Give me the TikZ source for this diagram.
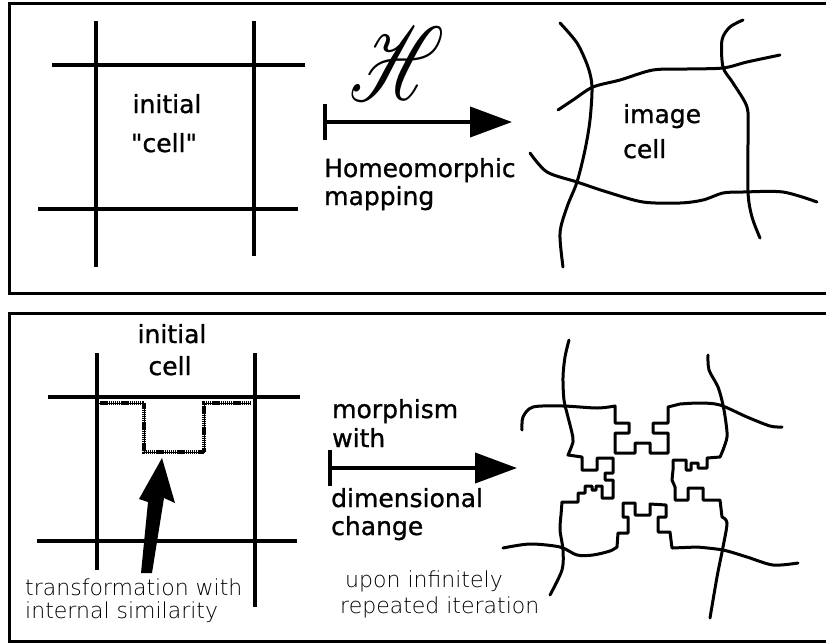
\documentclass[tikz,border=0pt]{standalone}
\usepackage{fontspec}
\usepackage{mathrsfs}
\setmainfont{DejaVu Sans}[RawFeature={embolden=1}]
\newfontfamily\thinfont{DejaVuSans-ExtraLight.ttf}
\usetikzlibrary{arrows.meta}
\tikzset{%
  panel/.style={line width=3pt},
  cellline/.style={line width=3.5pt},
  wavy/.style={line width=3pt,line cap=round,line join=round},
  hatch/.style={line width=4pt,dash pattern=on 1.4pt off 0.7pt},
  maparrow/.style={line width=4pt,{Bar[width=36pt,line width=4pt]}-{Triangle[length=42pt,width=30pt]}},
  word/.style={font=\fontsize{25}{30}\selectfont,inner sep=0pt},
  thinword/.style={font=\thinfont\fontsize{22}{24}\selectfont,inner sep=0pt},
}

\begin{document}
\begin{tikzpicture}[x=1pt,y=-1pt]
  \useasboundingbox (0,0) rectangle (826,643);
  \draw[panel] (9,3) rectangle (830,293);
  \draw[panel] (9,313) rectangle (830,641);

  % top panel
  \draw[cellline] (96,21) -- (96,267);
  \draw[cellline] (254,21) -- (254,256);
  \draw[cellline] (52,65) -- (305,65);
  \draw[cellline] (38,209) -- (298,209);
  \node[word,anchor=base] (ini1) at (167,113) {initial};
  \node[word,anchor=base] (cell1) at (164,152) {\textquotedbl cell\textquotedbl};

  \node[inner sep=0pt,xscale=7.5,yscale=10.5] (hsym) at (397,64) {$\mathscr{H}$};
  \coordinate (mapstart) at (323,122);
  \coordinate (mapend) at (512,122);
  \draw[maparrow] (mapstart) -- (mapend);
  \node[word,anchor=base west] (homeo) at (324,177) {Homeomorphic};
  \node[word,anchor=base west] (mapping) at (324,205) {mapping};

  \draw[wavy] plot[smooth] coordinates {(560,23) (577,43) (588,67) (592,87) (590,120) (585,150) (577,182) (567,207) (560,233) (563,267)};
  \draw[wavy] plot[smooth] coordinates {(558,110) (573,100) (593,87) (620,80) (653,70) (687,69) (723,68) (747,62) (780,55)};
  \draw[wavy] plot[smooth] coordinates {(743,20) (730,27) (722,40) (723,67) (733,83) (747,107) (748,133) (748,192) (752,217) (760,238)};
  \draw[wavy] plot[smooth] coordinates {(530,153) (547,172) (577,182) (607,192) (643,202) (680,203) (703,200) (723,193) (743,192) (783,192) (817,202)};
  \node[word,anchor=base west] (image) at (623,123) {image};
  \node[word,anchor=base west] (cell2) at (623,158) {cell};

  % bottom panel
  \draw[cellline] (97,353) -- (97,570);
  \draw[cellline] (255,353) -- (255,607);
  \draw[cellline] (48,397) -- (300,397);
  \draw[cellline] (37,541) -- (297,541);
  \node[word,anchor=base] (ini2) at (172,343) {initial};
  \node[word,anchor=base] (cell3) at (170,375) {cell};
  \draw[line width=1pt] (98,403) -- (144,403) -- (144,452) -- (204,452) -- (204,403) -- (250,403);
  \draw[hatch] (98,403) -- (144,403) -- (144,452) -- (204,452) -- (204,403) -- (250,403);
  \fill (162,458) -- (175,503) -- (164,498) -- (152,573) -- (141,573) -- (148,502) -- (139,499) -- cycle;
  \node[thinword,anchor=base west] (trans) at (25,595) {transformation with};
  \node[thinword,anchor=base west] (simil) at (25,618) {internal similarity};

  \coordinate (morphstart) at (328,468);
  \coordinate (morphend) at (517,468);
  \draw[maparrow] (morphstart) -- (morphend);
  \node[word,anchor=base west] (morph) at (332,418) {morphism};
  \node[word,anchor=base west] (with) at (332,447) {with};
  \node[word,anchor=base west] (dimen) at (331,507) {dimensional};
  \node[word,anchor=base west] (change) at (331,535) {change};
  \node[thinword,anchor=base west] (upon) at (345,587) {upon infinitely};
  \node[thinword,anchor=base west] (repeat) at (340,613) {repeated iteration};

  \draw[wavy] plot[smooth] coordinates {(522,430) (523,417) (533,407) (563,406) (597,408) (615,406)}
    -- (615,423) -- (629,423) -- (629,433) -- (615,433) -- (615,453) -- (635,453) -- (635,443)
    -- (650,443) -- (650,453) -- (668,453) -- (668,433) -- (653,433) -- (653,423) -- (668,423) -- (668,407)
    -- plot[smooth] coordinates {(680,404) (700,403) (720,405) (747,417) (770,426) (782,427)};
  \draw[wavy] plot[smooth] coordinates {(569,340) (565,357) (563,377) (564,400) (568,417) (572,433) (573,442) (568,455)}
    -- (582,457) -- (582,470) -- (597,470) -- (597,458) -- (613,458) -- (613,473) -- (605,473) -- (605,480)
    -- (613,480) -- (613,498) -- (602,498) -- (602,486) -- (596,486) -- (596,490) -- (592,490) -- (592,486)
    -- (585,486) -- (585,493) -- (578,493) -- (578,502) -- (562,502)
    -- plot[smooth] coordinates {(561,515) (560,530) (563,550) (562,570) (550,595)};
  \draw[wavy] plot[smooth] coordinates {(708,355) (709,370) (718,387) (723,405) (726,423) (727,437) (723,450) (720,457)}
    -- (707,458) -- (707,468) -- (698,468) -- (698,463) -- (691,463) -- (691,470) -- (686,470) -- (686,460)
    -- (673,460) -- (673,470) -- (672,480) -- (675,487) -- (675,500) -- (688,500) -- (688,488) -- (703,488)
    -- (703,500) -- (720,500)
    -- plot[smooth] coordinates {(722,517) (727,523) (723,547) (717,577) (710,618)};
  \draw[wavy] plot[smooth] coordinates {(503,548) (530,544) (560,547) (577,555) (593,555) (610,551) (617,547)}
    -- (618,533) -- (628,533) -- (628,517) -- (623,517) -- (623,503) -- (635,503) -- (635,515) -- (650,515)
    -- (650,504) -- (666,505) -- (666,517) -- (658,517) -- (658,532) -- (670,532) -- (672,548)
    -- plot[smooth] coordinates {(697,547) (723,550) (747,557) (773,565) (798,563)};
\end{tikzpicture}
\end{document}
